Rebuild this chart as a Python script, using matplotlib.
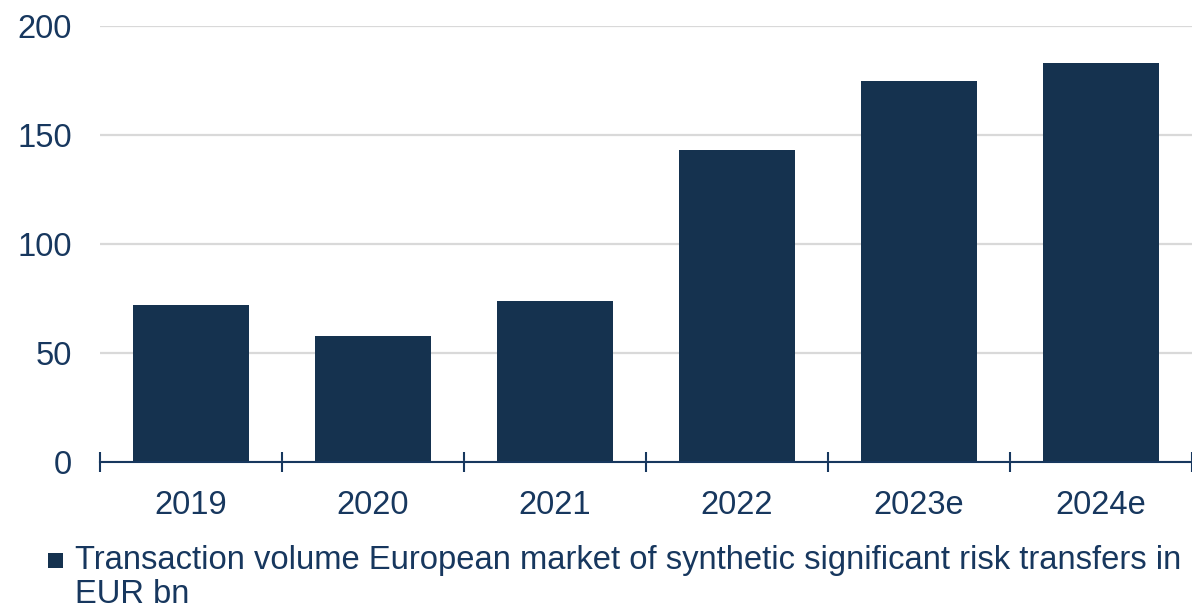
import matplotlib
matplotlib.use("Agg")
import matplotlib.pyplot as plt
import numpy as np
from matplotlib.patches import Rectangle

categories = ["2019", "2020", "2021", "2022", "2023e", "2024e"]
values = [72, 58, 74, 143, 175, 183]
yticks = [0, 50, 100, 150, 200]
series_label = "Transaction volume European market of synthetic significant risk transfers in\nEUR bn"

BAR = "#15324F"
TXT = "#17375E"
GRID = "#D9D9D9"

plt.rcParams['font.family'] = ['Liberation Sans', 'DejaVu Sans']

W, H = 1192, 613
fig = plt.figure(figsize=(W / 100, H / 100), dpi=100)
ax = fig.add_axes([100 / W, 1 - 462 / H, 1 - 100 / W, (462 - 26) / H])

x = np.arange(len(categories))
ax.bar(x, values, width=0.64, color=BAR, zorder=3, label=series_label)

ax.set_xlim(-0.5, len(categories) - 0.5)
ax.set_ylim(0, 200)
ax.set_yticks(yticks)
ax.set_yticklabels([str(v) for v in yticks])
ax.yaxis.grid(True, color=GRID, linewidth=1.6, zorder=0)
ax.tick_params(axis='y', length=0, pad=20, labelsize=23.5, labelcolor=TXT)

# category boundaries as major ticks, labels as minor
ax.set_xticks(np.arange(len(categories) + 1) - 0.5)
ax.set_xticklabels([])
ax.set_xticks(x, minor=True)
ax.set_xticklabels(categories, minor=True)
ax.tick_params(axis='x', which='major', direction='inout', length=14, width=1.5, color=TXT)
ax.tick_params(axis='x', which='minor', length=0, pad=20.5, labelsize=23.5, labelcolor=TXT)

for s in ['top', 'right', 'left']:
    ax.spines[s].set_visible(False)
ax.spines['bottom'].set_color(TXT)
ax.spines['bottom'].set_linewidth(1.5)
ax.spines['bottom'].set_zorder(4)

# legend
fig.patches.append(Rectangle((48 / W, 1 - 568 / H), 15 / W, 15 / H,
                             transform=fig.transFigure, facecolor=BAR, edgecolor='none'))
fig.text(75 / W, 1 - 545 / H, series_label, fontsize=23.6, color=TXT,
         ha='left', va='top', linespacing=1.13)

fig.savefig("out.png", dpi=100)
